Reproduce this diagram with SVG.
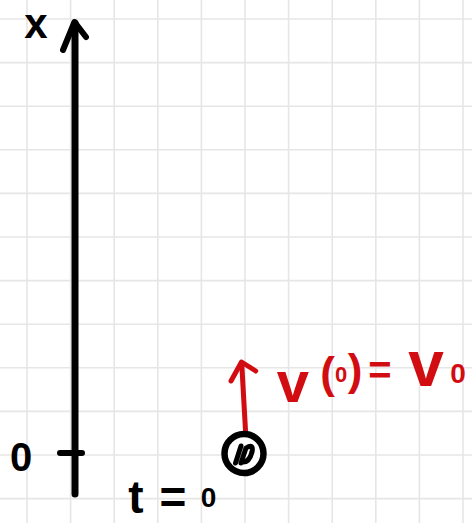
<svg xmlns="http://www.w3.org/2000/svg" width="472" height="523" viewBox="0 0 472 523">
<style>
.grid{stroke:#e6e6e6;stroke-width:1.6;fill:none}
.ink{stroke:#000;fill:none;stroke-linecap:round;stroke-linejoin:round}
.red{stroke:#d20d12;fill:none;stroke-linecap:round;stroke-linejoin:round}
.lbl{font-family:"Liberation Sans",Arial,sans-serif;font-weight:bold;text-anchor:middle}
</style>
<rect width="472" height="523" fill="#fff"/>
<g id="grid">
<path class="grid" d="M27 0V523M70.6 0V523M114.2 0V523M157.8 0V523M201.4 0V523M245 0V523M288.6 0V523M332.2 0V523M375.8 0V523M419.4 0V523M463 0V523M0 19H472M0 62.6H472M0 106.2H472M0 149.8H472M0 193.4H472M0 237H472M0 280.6H472M0 324.2H472M0 367.8H472M0 411.4H472M0 455H472M0 498.6H472"/>
</g>
<g id="connectors">
<g id="x-axis">
<path class="ink" stroke-width="7" d="M75 494V23"/>
<path class="ink" stroke-width="6" d="M63 50L74.5 22L86 37"/>
<path class="ink" stroke-width="6" d="M60 453H82"/>
</g>
<g id="velocity">
<path class="red" stroke-width="5" d="M245.7 434L241.7 363"/>
<path class="red" stroke-width="5" d="M231 381L241.5 362L255.7 371"/>
</g>
</g>
<g id="ball">
<circle cx="244" cy="453.5" r="19.5" fill="#fff" stroke="#000" stroke-width="6.5"/>
<path class="ink" stroke-width="5" d="M235.5 463L241 446M241 463L246 448Q254 443 252 452Q249 463 242 462"/>
</g>
<g id="label-x"><text class="lbl" x="36" y="38" font-size="42">x</text></g>
<g id="label-0"><text class="lbl" x="21" y="471" font-size="40">0</text></g>
<g id="label-t0"><text class="lbl" font-size="46"><tspan x="136" y="513">t</tspan><tspan x="173" y="513">=</tspan><tspan x="208.5" y="507" font-size="28">0</tspan></text></g>
<g id="label-v0"><text class="lbl" fill="#d20d12"><tspan x="293" y="402" font-size="58">v</tspan><tspan x="327.5" y="388" font-size="44">(</tspan><tspan x="341" y="382" font-size="22">0</tspan><tspan x="355" y="385" font-size="44">)</tspan><tspan x="380" y="384" font-size="40">=</tspan><tspan x="426" y="386" font-size="64">v</tspan><tspan x="458" y="383" font-size="28">0</tspan></text></g>
</svg>
